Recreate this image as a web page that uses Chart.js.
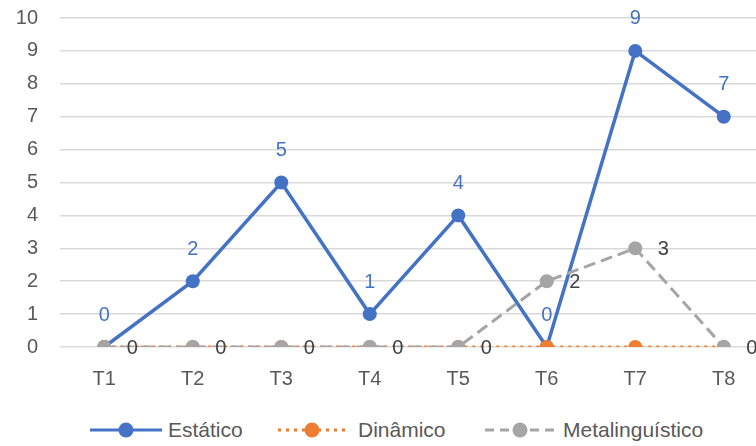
<!DOCTYPE html>
<html>
<head>
<meta charset="utf-8">
<script src="https://cdn.jsdelivr.net/npm/chart.js@4.4.1/dist/chart.umd.min.js"></script>
<style>
  html, body { margin: 0; padding: 0; background: #fff; overflow: hidden; width: 756px; height: 446px; }
  #wrap { position: relative; width: 756px; height: 446px; overflow: hidden; }
  #grafico { position: absolute; left: 0; top: -16px; }
  #leyenda { position: absolute; left: 0; top: 417px; width: 756px; height: 26px;
    font-family: "Liberation Sans", Arial, sans-serif; font-size: 21px; color: #595959; }
  #leyenda svg, #leyenda span { position: absolute; top: 0; }
  #leyenda span { line-height: 26px; }
  #leyenda svg { top: 3px; }
</style>
</head>
<body>
<div id="wrap">
  <canvas id="grafico" width="780" height="416"></canvas>
  <div id="leyenda"></div>
</div>
<script>
// Datos del gráfico
const categorias = ['T1', 'T2', 'T3', 'T4', 'T5', 'T6', 'T7', 'T8'];
const estatico = [0, 2, 5, 1, 4, 0, 9, 7];
const dinamico = [0, 0, 0, 0, 0, 0, 0, 0];
const metalinguistico = [0, 0, 0, 0, 0, 2, 3, 0];
const nombresSeries = ['Estático', 'Dinâmico', 'Metalinguístico'];
const yMin = 0, yMax = 10, yPaso = 1;

const azul = '#4472C4';
const naranja = '#ED7D31';
const gris = '#A5A5A5';
const fuente = '"Liberation Sans", Arial, sans-serif';

// Plugin simple para las etiquetas de datos
const etiquetas = {
  id: 'etiquetas',
  afterDatasetsDraw(chart) {
    const ctx = chart.ctx;
    ctx.save();
    ctx.font = '20px ' + fuente;
    ctx.textAlign = 'center';
    ctx.textBaseline = 'middle';
    chart.data.datasets.forEach((ds, i) => {
      if (!ds.etiqueta) return;
      const meta = chart.getDatasetMeta(i);
      meta.data.forEach((pt, j) => {
        ctx.fillStyle = ds.etiqueta.color;
        ctx.fillText(String(ds.data[j]), pt.x + ds.etiqueta.dx, pt.y + ds.etiqueta.dy);
      });
    });
    ctx.restore();
  }
};

const ctx = document.getElementById('grafico').getContext('2d');
new Chart(ctx, {
  type: 'line',
  data: {
    labels: categorias,
    datasets: [{
      label: nombresSeries[0],
      data: estatico,
      borderColor: azul,
      backgroundColor: azul,
      borderWidth: 3.5,
      pointRadius: 7,
      pointHoverRadius: 7,
      pointBorderWidth: 0,
      order: 3,
      etiqueta: { color: azul, dx: 0, dy: -32 },
    }, {
      label: nombresSeries[1],
      data: dinamico,
      borderColor: naranja,
      backgroundColor: naranja,
      borderWidth: 3,
      borderDash: [3, 5],
      pointRadius: 7,
      pointHoverRadius: 7,
      pointBorderWidth: 0,
      order: 2,
    }, {
      label: nombresSeries[2],
      data: metalinguistico,
      borderColor: gris,
      backgroundColor: gris,
      borderWidth: 3,
      borderDash: [12, 6],
      pointRadius: 7,
      pointHoverRadius: 7,
      pointBorderWidth: 0,
      order: 1,
      etiqueta: { color: '#404040', dx: 28, dy: 1 },
    }],
  },
  options: {
    responsive: false,
    devicePixelRatio: 1,
    animation: false,
    layout: { padding: { top: 2, right: 12, left: 0, bottom: 0 } },
    plugins: {
      legend: { display: false },
      tooltip: { enabled: false },
    },
    scales: {
      x: {
        offset: true,
        grid: { display: false, drawTicks: false, offset: true },
        border: { display: false },
        ticks: { color: '#595959', font: { family: fuente, size: 20 }, padding: 20 },
        afterFit: s => { s.height = 53; },
      },
      y: {
        min: yMin,
        max: yMax,
        grid: { color: '#D9D9D9', lineWidth: 1.5, drawTicks: false },
        border: { display: false },
        ticks: { stepSize: yPaso, color: '#595959', font: { family: fuente, size: 20 }, padding: 22 },
        afterFit: s => { s.width = 60; },
      },
    },
  },
  plugins: [etiquetas],
});

// Leyenda en HTML (línea con marcador, como en el original)
const leyenda = document.getElementById('leyenda');
const estilos = [
  { color: azul, dash: '', x: 90, ancho: 72, texto: 168 },
  { color: naranja, dash: '3 5', x: 278, ancho: 68, texto: 358 },
  { color: gris, dash: '9 6', x: 485, ancho: 70, texto: 563 },
];
nombresSeries.forEach((nombre, i) => {
  const e = estilos[i];
  leyenda.insertAdjacentHTML('beforeend',
    `<svg width="${e.ancho}" height="20" style="left:${e.x}px"><line x1="0" y1="10" x2="${e.ancho}" y2="10" stroke="${e.color}" stroke-width="3"` +
    (e.dash ? ` stroke-dasharray="${e.dash}"` : '') + `/><circle cx="${e.ancho / 2}" cy="10" r="7.5" fill="${e.color}"/></svg>` +
    `<span style="left:${e.texto}px">${nombre}</span>`);
});
</script>
</body>
</html>
